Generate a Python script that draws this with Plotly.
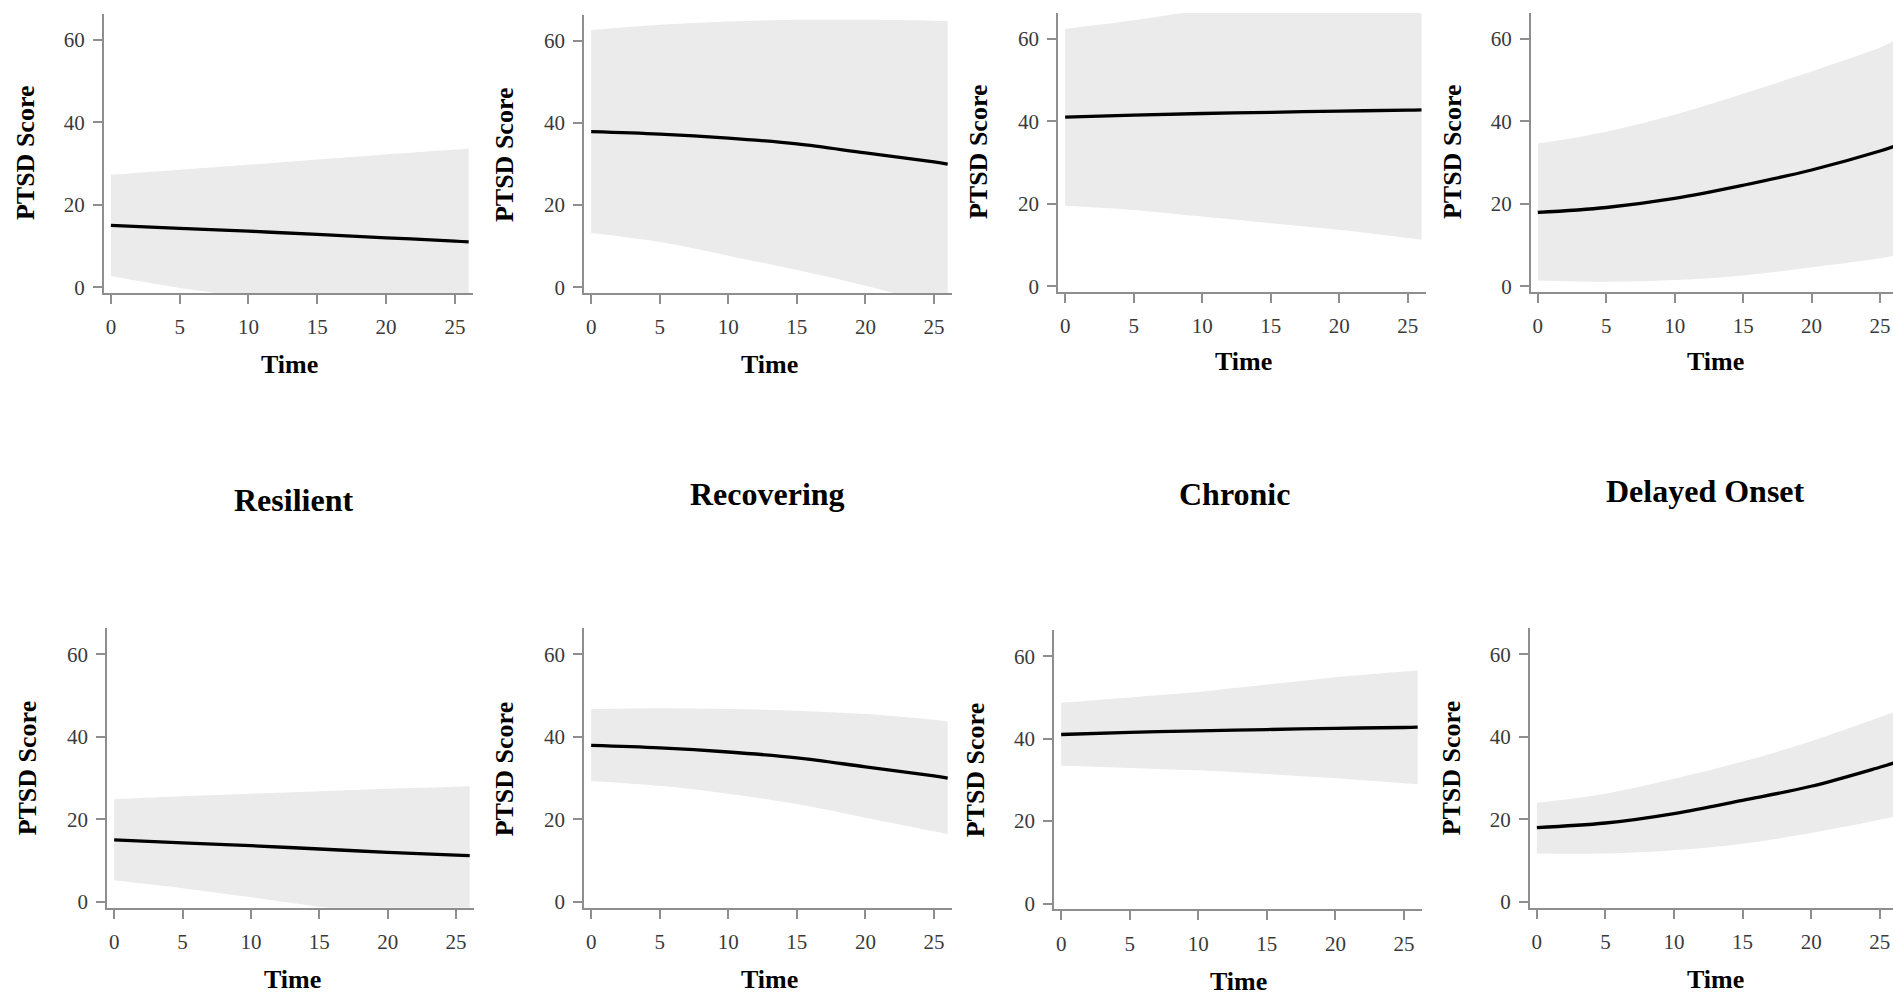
import plotly.graph_objects as go

# ---------------- data ----------------
time_pts = [0, 5, 10, 15, 20, 25, 26]
groups = ["Resilient", "Recovering", "Chronic", "Delayed Onset"]
y_ticks = [0, 20, 40, 60]
x_ticks = [0, 5, 10, 15, 20, 25]

# top row
top_mean = {
    "Resilient":     [15.0, 14.3, 13.6, 12.8, 12.0, 11.2, 11.0],
    "Recovering":    [37.9, 37.3, 36.3, 34.9, 32.7, 30.5, 30.0],
    "Chronic":       [41.0, 41.5, 41.9, 42.2, 42.5, 42.7, 42.8],
    "Delayed Onset": [17.9, 19.1, 21.3, 24.5, 28.2, 32.8, 33.9],
}
top_upper = {
    "Resilient":     [27.3, 28.5, 29.7, 31.0, 32.2, 33.4, 33.6],
    "Recovering":    [62.6, 63.9, 64.7, 65.1, 65.1, 64.9, 64.8],
    "Chronic":       [62.4, 64.5, 67.0, 69.1, 71.3, 73.8, 74.3],
    "Delayed Onset": [34.6, 37.5, 41.6, 46.7, 52.1, 57.9, 59.5],
}
top_lower = {
    "Resilient":     [2.7, -0.2, -2.5, -5.4, -8.2, -11.0, -11.6],
    "Recovering":    [13.2, 11.0, 7.7, 4.2, 0.4, -3.9, -4.8],
    "Chronic":       [19.5, 18.5, 16.9, 15.3, 13.7, 11.7, 11.3],
    "Delayed Onset": [1.4, 1.1, 1.5, 2.6, 4.6, 6.8, 7.4],
}
# bottom row
bot_mean = {
    "Resilient":     [15.0, 14.3, 13.6, 12.8, 12.0, 11.3, 11.2],
    "Recovering":    [37.9, 37.3, 36.3, 34.9, 32.7, 30.5, 30.0],
    "Chronic":       [41.0, 41.5, 41.9, 42.2, 42.5, 42.7, 42.8],
    "Delayed Onset": [18.0, 19.1, 21.4, 24.6, 28.0, 32.6, 33.6],
}
bot_upper = {
    "Resilient":     [24.9, 25.6, 26.2, 26.8, 27.4, 27.9, 28.0],
    "Recovering":    [46.7, 46.9, 46.7, 46.3, 45.5, 44.1, 43.7],
    "Chronic":       [48.7, 50.0, 51.3, 53.1, 54.9, 56.3, 56.6],
    "Delayed Onset": [24.0, 26.2, 29.8, 34.0, 38.9, 44.7, 45.9],
}
bot_lower = {
    "Resilient":     [5.2, 3.3, 1.1, -1.2, -3.3, -5.2, -5.6],
    "Recovering":    [29.3, 28.1, 26.2, 23.7, 20.4, 17.1, 16.4],
    "Chronic":       [33.4, 32.9, 32.3, 31.4, 30.4, 29.2, 29.0],
    "Delayed Onset": [11.7, 11.7, 12.5, 14.1, 16.7, 19.9, 20.6],
}

# ---------------- layout geometry (pixels) ----------------
W, H = 1893, 998
# (left, right, top, bottom, x_range_end)
panel_px = [
    (104.0, 472.8, 14, 295, 26.3),
    (584.3, 951.8, 15, 295, 26.3),
    (1058.3, 1425.6, 13, 294, 26.3),
    (1531.0, 1893.0, 13, 294, 25.95),
    (107.3, 473.8, 632, 913.3, 26.3),
    (584.3, 951.8, 632, 913.3, 26.3),
    (1054.3, 1421.8, 634, 915, 26.3),
    (1530.0, 1893.0, 632, 913.3, 25.97),
]
ytitle_pos = [(25, 154), (504, 155), (978, 153), (1452, 153),
              (27, 773), (504, 773), (975, 775), (1451, 773)]
xtitle_pos = [(289, 367), (769, 367), (1243, 364), (1715, 364),
              (292, 985), (769, 985), (1238, 987), (1715, 985)]
group_title_pos = [(293, 503), (767, 497), (1234, 497), (1705, 494)]

FILL = "rgb(235,235,235)"
AXC = "#8e8e8e"
SERIF = "Liberation Serif"

fig = go.Figure()
layout = {}
annotations = []

for i in range(8):
    g = groups[i % 4]
    if i < 4:
        m, u, l = top_mean[g], top_upper[g], top_lower[g]
    else:
        m, u, l = bot_mean[g], bot_upper[g], bot_lower[g]
    k = i + 1
    xa = "x" if k == 1 else f"x{k}"
    ya = "y" if k == 1 else f"y{k}"
    fig.add_trace(go.Scatter(x=time_pts, y=l, xaxis=xa, yaxis=ya, mode="lines",
                             line=dict(width=0, shape="spline", color=FILL),
                             showlegend=False, hoverinfo="skip"))
    fig.add_trace(go.Scatter(x=time_pts, y=u, xaxis=xa, yaxis=ya, mode="lines",
                             line=dict(width=0, shape="spline", color=FILL),
                             fill="tonexty", fillcolor=FILL,
                             showlegend=False, hoverinfo="skip"))
    fig.add_trace(go.Scatter(x=time_pts, y=m, xaxis=xa, yaxis=ya, mode="lines",
                             line=dict(width=3.3, shape="spline", color="black"),
                             showlegend=False))

    left, right, top, bottom, xend = panel_px[i]
    xname = "xaxis" if k == 1 else f"xaxis{k}"
    yname = "yaxis" if k == 1 else f"yaxis{k}"
    layout[xname] = dict(
        domain=[left / W, right / W], anchor=ya, range=[-0.5, xend],
        tickvals=x_ticks, showgrid=False, zeroline=False,
        showline=True, linecolor=AXC, linewidth=2,
        ticks="outside", ticklen=9, tickwidth=1.5, tickcolor=AXC,
        tickfont=dict(family=SERIF, size=21, color="#3a3a3a"),
        ticklabelstandoff=5,
    )
    layout[yname] = dict(
        domain=[1 - bottom / H, 1 - top / H], anchor=xa, range=[-1.45, 66.3],
        tickvals=y_ticks, showgrid=False, zeroline=False,
        showline=True, linecolor=AXC, linewidth=2,
        ticks="outside", ticklen=9, tickwidth=1.5, tickcolor=AXC,
        tickfont=dict(family=SERIF, size=21, color="#3a3a3a"),
        ticklabelstandoff=4,
    )
    tx, ty = ytitle_pos[i]
    annotations.append(dict(text="<b>PTSD Score</b>", x=tx / W, y=1 - ty / H,
                            xref="paper", yref="paper", showarrow=False,
                            textangle=-90, xanchor="center", yanchor="middle",
                            font=dict(family=SERIF, size=26, color="black")))
    tx, ty = xtitle_pos[i]
    annotations.append(dict(text="<b>Time</b>", x=tx / W, y=1 - ty / H,
                            xref="paper", yref="paper", showarrow=False,
                            xanchor="center", yanchor="middle",
                            font=dict(family=SERIF, size=26, color="black")))

for g, (tx, ty) in zip(groups, group_title_pos):
    annotations.append(dict(text=f"<b>{g}</b>", x=tx / W, y=1 - ty / H,
                            xref="paper", yref="paper", showarrow=False,
                            xanchor="center", yanchor="middle",
                            font=dict(family=SERIF, size=32, color="black")))

fig.update_layout(**layout)
fig.update_layout(
    width=W, height=H, margin=dict(l=0, r=0, t=0, b=0),
    paper_bgcolor="white", plot_bgcolor="white",
    showlegend=False, annotations=annotations,
)
fig.write_html("out.html")
